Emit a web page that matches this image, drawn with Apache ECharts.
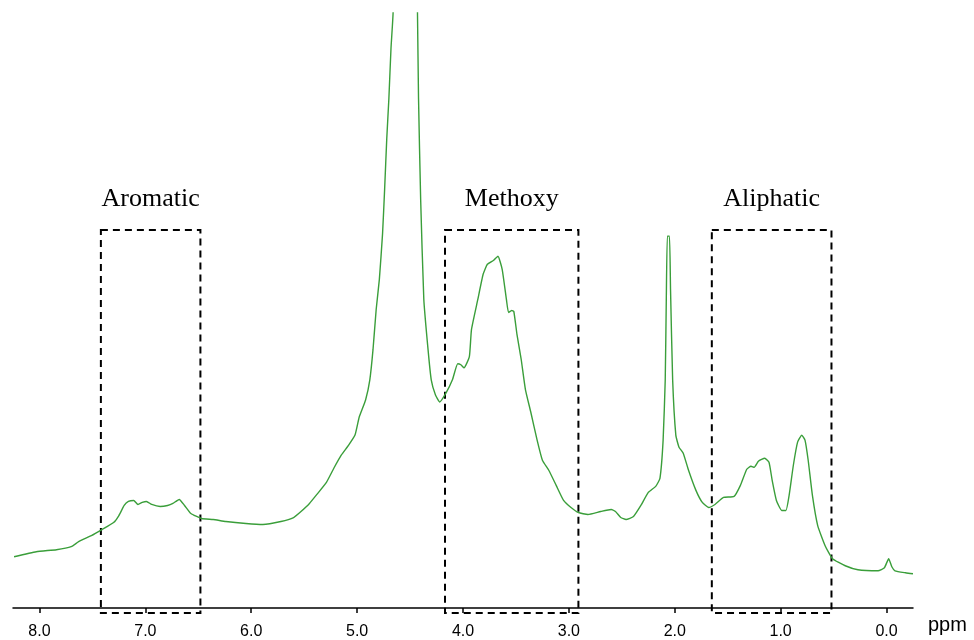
<!DOCTYPE html>
<html>
<head>
<meta charset="utf-8">
<script src="https://cdn.jsdelivr.net/npm/echarts@6/dist/echarts.min.js"></script>
<style>
  html, body { margin: 0; padding: 0; background: #fff; }
  #chartDom { width: 974px; height: 640px; }
</style>
</head>
<body>
<div id="chartDom"></div>
<script>
// chemical shift (ppm) and intensity
let ppm = [8.24, 8.03, 7.84, 7.70, 7.63, 7.51, 7.41, 7.30, 7.25, 7.20, 7.16, 7.11, 7.07, 7.03, 6.99, 6.94, 6.86, 6.79, 6.74, 6.68, 6.63, 6.57, 6.47, 6.36, 6.24, 6.05, 5.89, 5.72, 5.60, 5.53, 5.45, 5.38, 5.29, 5.22, 5.15, 5.08, 5.02, 4.98, 4.92, 4.88, 4.85, 4.82, 4.79, 4.76, 4.74, 4.72, 4.70, 4.68, 4.66, 4.56, 4.43, 4.42, 4.40, 4.37, 4.33, 4.30, 4.26, 4.22, 4.16, 4.10, 4.05, 4.02, 3.99, 3.94, 3.92, 3.86, 3.81, 3.77, 3.71, 3.67, 3.63, 3.59, 3.57, 3.54, 3.52, 3.49, 3.45, 3.41, 3.36, 3.30, 3.25, 3.19, 3.12, 3.05, 2.98, 2.91, 2.82, 2.70, 2.60, 2.56, 2.51, 2.46, 2.39, 2.32, 2.25, 2.18, 2.14, 2.11, 2.09, 2.08, 2.07, 2.05, 2.04, 2.02, 1.99, 1.96, 1.92, 1.87, 1.80, 1.74, 1.68, 1.62, 1.54, 1.44, 1.38, 1.32, 1.28, 1.25, 1.21, 1.15, 1.11, 1.08, 1.04, 0.99, 0.95, 0.92, 0.88, 0.84, 0.80, 0.77, 0.74, 0.70, 0.65, 0.58, 0.51, 0.39, 0.27, 0.08, 0.02, -0.02, -0.05, -0.08, -0.18, -0.25]
let intensity = [51, 56, 58, 61, 66, 72, 78, 85, 92, 102, 106, 107, 103, 105, 106, 103, 101, 102, 104, 108, 102, 94, 89, 88, 86, 84, 83, 86, 90, 96, 104, 113, 125, 139, 152, 162, 172, 190, 207, 227, 257, 297, 327, 372, 417, 467, 507, 557, 593, 1500, 593, 507, 407, 307, 257, 227, 212, 205, 214, 227, 243, 242, 239, 250, 277, 307, 332, 342, 346, 350, 337, 307, 294, 296, 295, 272, 247, 217, 195, 167, 147, 137, 122, 107, 100, 95, 93, 96, 98, 96, 90, 88, 91, 102, 115, 121, 129, 167, 227, 307, 370, 370, 317, 227, 172, 160, 154, 137, 117, 105, 100, 103, 110, 111, 122, 138, 141, 140, 146, 149, 145, 127, 107, 97, 97, 112, 142, 165, 172, 167, 147, 112, 82, 62, 49, 42, 38, 37, 40, 49, 41, 37, 35, 34]

// ppm tick labels
let tickValues = [0, 1, 2, 3, 4, 5, 6, 7, 8]

// region boxes
let boxNames = ['Aromatic', 'Methoxy', 'Aliphatic']
let boxFrom = [7.42, 4.17, 1.65]
let boxTo = [6.48, 2.91, 0.52]
let boxTop = 376
let boxBottom = -5

let chart1 = echarts.init(document.getElementById('chartDom'))

let spectrum = ppm.map(function (p, i) {
  return [p, intensity[i]]
})
let areas = boxNames.map(function (name, i) {
  return [
    { name: name, xAxis: boxFrom[i], yAxis: boxTop },
    { xAxis: boxTo[i], yAxis: boxBottom }
  ]
})

chart1.setOption({
  animation: false,
  grid: {
    left: 13,
    right: 61,
    top: 13,
    bottom: 26
  },
  xAxis: {
    type: 'value',
    inverse: true,
    min: -0.25,
    max: 8.25,
    name: 'ppm',
    nameLocation: 'start',
    nameGap: 15,
    nameTextStyle: {
      color: '#000',
      fontFamily: 'Liberation Sans',
      fontSize: 20,
      align: 'left',
      verticalAlign: 'top',
      padding: [8, 0, 0, 0]
    },
    axisLine: {
      onZero: true,
      lineStyle: { color: '#000', width: 1.5 }
    },
    axisTick: {
      customValues: tickValues,
      length: 5,
      lineStyle: { color: '#000', width: 1.5 }
    },
    axisLabel: {
      customValues: tickValues,
      color: '#000',
      fontFamily: 'Liberation Sans',
      fontSize: 16,
      margin: 11,
      formatter: function (v) {
        return v.toFixed(1)
      }
    },
    splitLine: { show: false }
  },
  yAxis: {
    type: 'value',
    show: false,
    min: boxBottom,
    max: 592
  },
  series: [{
    type: 'line',
    data: spectrum,
    showSymbol: false,
    smooth: 0.15,
    clip: true,
    lineStyle: {
      color: '#3a9e3a',
      width: 1.4
    },
    markArea: {
      silent: true,
      itemStyle: {
        color: 'rgba(0,0,0,0)',
        borderColor: '#000',
        borderWidth: 2,
        borderType: [7, 5]
      },
      label: {
        show: true,
        position: 'top',
        distance: 17,
        color: '#000',
        fontFamily: 'Liberation Serif',
        fontSize: 26
      },
      data: areas
    }
  }]
})
</script>
</body>
</html>
